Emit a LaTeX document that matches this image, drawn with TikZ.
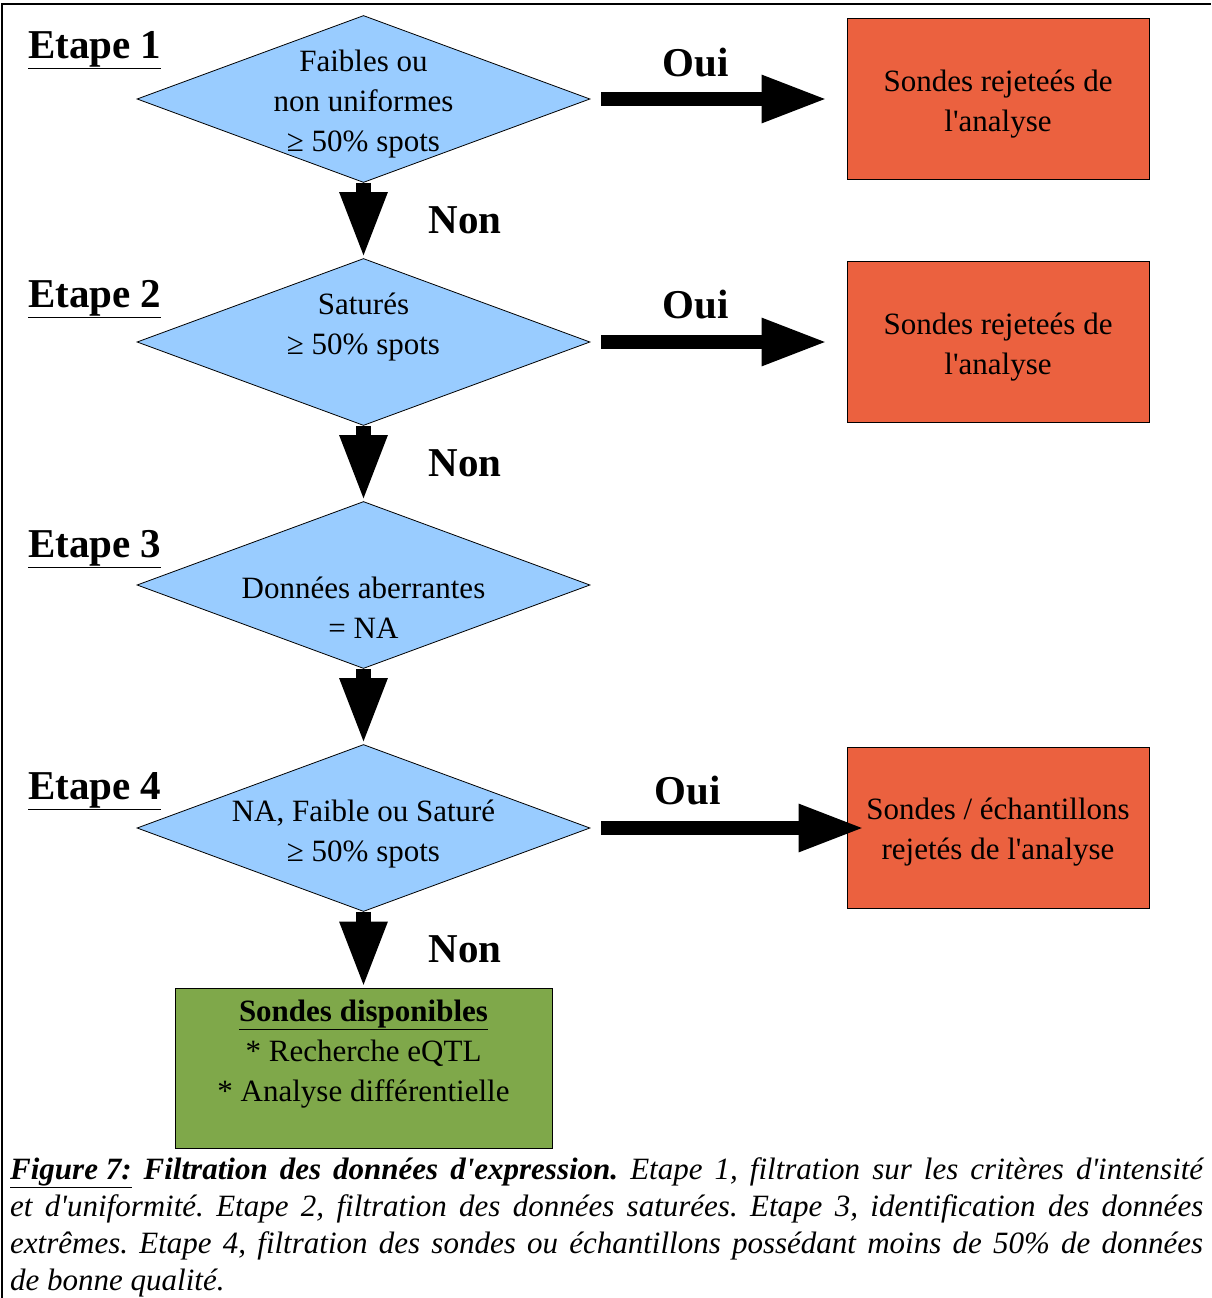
\documentclass[tikz,border=0pt]{standalone}
\usepackage{fontspec}
\setmainfont{Liberation Serif}[Ligatures=TeXOff]
\usetikzlibrary{shapes.geometric,arrows.meta}
\definecolor{bleu}{HTML}{99CCFF}
\definecolor{rouge}{HTML}{EB613F}
\definecolor{vert}{HTML}{7FA84A}

\begin{document}
\begin{tikzpicture}[x=1pt,y=1pt,node distance=243pt]
    \tikzstyle{texte}=[font=\fontsize{31}{40}\selectfont, align=center, inner sep=0pt]
    \tikzstyle{decision}=[
        draw,
        shape=diamond,
        fill=bleu,
        line width=0.8pt,
        minimum width=453pt,
        minimum height=167pt,
        inner sep=0pt]
    \tikzstyle{rejet}=[draw, rectangle, fill=rouge, line width=0.8pt,
        minimum width=302pt, minimum height=161pt]
    \tikzstyle{dispo}=[draw, rectangle, fill=vert, line width=0.8pt,
        minimum width=377pt, minimum height=160pt]
    \tikzstyle{fleche}=[line width=14.5pt, -{Triangle[width=44pt,length=66pt]}]
    \tikzstyle{reponse}=[font=\fontsize{41}{49}\selectfont\bfseries, inner sep=0pt]
    \tikzstyle{etape}=[reponse, anchor=base west]
    \tikzstyle{legende}=[anchor=north west, inner sep=0pt, text width=1193pt,
        align=justify, font=\fontsize{31}{37}\selectfont\itshape\frenchspacing]

    \useasboundingbox (0,0) rectangle (1211,-1298);
    \draw[line width=2.5pt] (1.8,-1298) -- (1.8,-3.8) -- (1211,-3.8);

    \newcommand{\etape}[1]{\underline{Etape #1}}
    \node[etape] (e1) at (28,-58.5) {\etape{1}};
    \node[etape] (e2) at (28,-307.5) {\etape{2}};
    \node[etape] (e3) at (28,-557.5) {\etape{3}};
    \node[etape] (e4) at (28,-799.5) {\etape{4}};

    \node[decision] (d1) at (363.5,-99)
        [label={[texte,yshift=-5pt]center:Faibles ou\\non uniformes\\≥ 50\% spots}] {};
    \node[decision] [below of=d1] (d2)
        [label={[texte,yshift=15pt]center:Saturés\\≥ 50\% spots}] {};
    \node[decision] [below of=d2] (d3)
        [label={[texte,yshift=-23pt]center:Données aberrantes\\= NA}] {};
    \node[decision] [below of=d3] (d4)
        [label={[texte,yshift=-6pt]center:NA, Faible ou Saturé\\≥ 50\% spots}] {};

    \node[rejet] (r1) at (998,-99)
        [label={[texte,yshift=-5pt]center:Sondes rejeteés de\\l'analyse}] {};
    \node[rejet] [below of=r1] (r2)
        [label={[texte,yshift=-5pt]center:Sondes rejeteés de\\l'analyse}] {};
    \node[rejet] [below of=r2, node distance=486pt] (r3)
        [label={[texte,yshift=-4pt]center:Sondes / échantillons\\rejetés de l'analyse}] {};

    \node[dispo] [below of=d4, node distance=240pt] (g)
        [label={[texte,yshift=14pt]center:\underline{\textbf{Sondes disponibles}}\\* Recherche eQTL\\* Analyse différentielle}] {};

    \path (d1) edge[fleche] node[reponse, right=58pt]{Non} (d2)
          (d2) edge[fleche] node[reponse, right=58pt]{Non} (d3)
          (d3) edge[fleche] (d4)
          (d4) edge[fleche] node[reponse, right=58pt]{Non} (g)
          (d1) edge[fleche, shorten <=11pt, shorten >=19pt] node[reponse, above=15pt, pos=0.41]{Oui} (r1)
          (d2) edge[fleche, shorten <=11pt, shorten >=19pt] node[reponse, above=16pt, pos=0.41]{Oui} (r2)
          (d4) edge[fleche, shorten <=11pt, shorten >=-18pt] node[reponse, above=16pt, pos=0.38]{Oui} (r3);

    \node[legende] (leg) at (10,-1157) {\underline{\textbf{Figure 7:}} \textbf{Filtration des données d'expression.} Etape 1, filtration sur les critères d'intensité\linebreak
        et d'uniformité. Etape 2, filtration des données saturées. Etape 3, identification des données\linebreak
        extrêmes. Etape 4, filtration des sondes ou échantillons possédant moins de 50\% de données\linebreak
        de bonne qualité.};
\end{tikzpicture}
\end{document}
